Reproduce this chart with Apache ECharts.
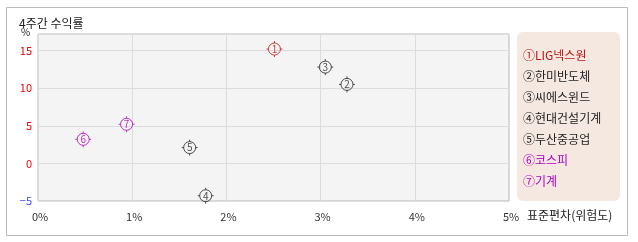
<!DOCTYPE html>
<html><head><meta charset="utf-8">
<script src="https://cdn.jsdelivr.net/npm/echarts@6/dist/echarts.min.js"></script>
<style>html,body{margin:0;padding:0;background:#fff}#c{width:638px;height:242px}</style>
</head><body><div id="c"></div>
<script>
const names = ['LIG넥스원','한미반도체','씨에스윈드','현대건설기계','두산중공업','코스피','기계'];
const marks = ['①','②','③','④','⑤','⑥','⑦'];
const stdDev = [2.51, 3.28, 3.05, 1.78, 1.61, 0.48, 0.94];
const returns4w = [15.2, 10.5, 12.8, -4.3, 2.1, 3.2, 5.2];
const colors = ['#b81818','#222222','#222222','#222222','#222222','#b000c0','#b000c0'];
const xTicks = ['0%','1%','2%','3%','4%','5%'];
const title = '4주간 수익률';
const xName = '표준편차(위험도)';
const yName = '%';

const FONT = '"Noto Sans CJK KR", "Noto Sans", sans-serif';
const sym = 'path://M0,-6A6,6,0,1,1,0,6A6,6,0,1,1,0,-6Z M0,-8L0,-6 M0,6L0,8 M-8,0L-6,0 M6,0L8,0';

const chart = echarts.init(document.getElementById('c'), null, {renderer:'canvas'});
const series = names.map((n,i)=>({
  name: n, type:'scatter',
  data: [[stdDev[i], returns4w[i]]],
  symbol: sym, symbolSize: 16,
  itemStyle: {color:'rgba(0,0,0,0)', borderColor: colors[i], borderWidth: 1},
  label: {show:true, position:'inside', formatter: String(i+1), color: colors[i], fontSize: 10, fontFamily: FONT},
  emphasis:{disabled:true}
}));
chart.setOption({
  animation:false,
  textStyle:{fontFamily:FONT},
  graphic:[
    {type:'rect', shape:{x:6.5,y:7.5,width:621,height:228}, style:{fill:'none', stroke:'#bbbbbb', lineWidth:1}, z:-10},
    {type:'rect', shape:{x:517,y:32,width:103,height:169,r:6}, style:{fill:'#f5e8e1'}, z:-5},
    {type:'text', left:527, top:209, style:{text:xName, fontSize:12, fill:'#222', fontFamily:FONT}},
    {type:'text', left:21, top:27, style:{text:yName, fontSize:10, fill:'#222', fontFamily:FONT}}
  ],
  title:{text:title, left:14, top:12, textStyle:{fontSize:12, fontWeight:'normal', color:'#222', fontFamily:FONT}},
  grid:{left:38, right:129, top:34, bottom:41, show:true, backgroundColor:'#f4f4f4', borderColor:'#b8b8b8', borderWidth:1},
  legend:{
    orient:'vertical', left:517, top:32, padding:[16,4,13,4],
    icon:'none', itemWidth:0, itemHeight:14, itemGap:8,
    selectedMode:false,
    data: names.map((n,i)=>({name:n, textStyle:{color:colors[i]}})),
    formatter: n => marks[names.indexOf(n)] + n,
    textStyle:{fontSize:12, fontFamily:FONT, padding:[0,0,0,-3]}
  },
  xAxis:{
    type:'value', min:0, max:5, interval:1,
    axisLine:{show:false}, axisTick:{show:false},
    axisLabel:{formatter: v => xTicks[Math.round(v)] || '', color:'#333', fontSize:11, margin:10, padding:[0,0,0,4]},
    splitLine:{show:true, lineStyle:{color:'#dcdcdc'}}
  },
  yAxis:{
    type:'value', min:-5, max:17.2, interval:5,
    axisLine:{show:false}, axisTick:{show:false},
    axisLabel:{showMaxLabel:false, fontSize:11, margin:6,
      formatter: v => (Math.abs(v % 5) < 1e-9 ? String(v).replace('-', '\u2212') : ''),
      color: v => (Number(v) < 0 || String(v).indexOf('\u2212')===0 || String(v).indexOf('-')===0) ? '#4040ff' : '#ee0000'},
    splitLine:{show:true, lineStyle:{color:'#dcdcdc'}}
  },
  series
});
</script></body></html>
